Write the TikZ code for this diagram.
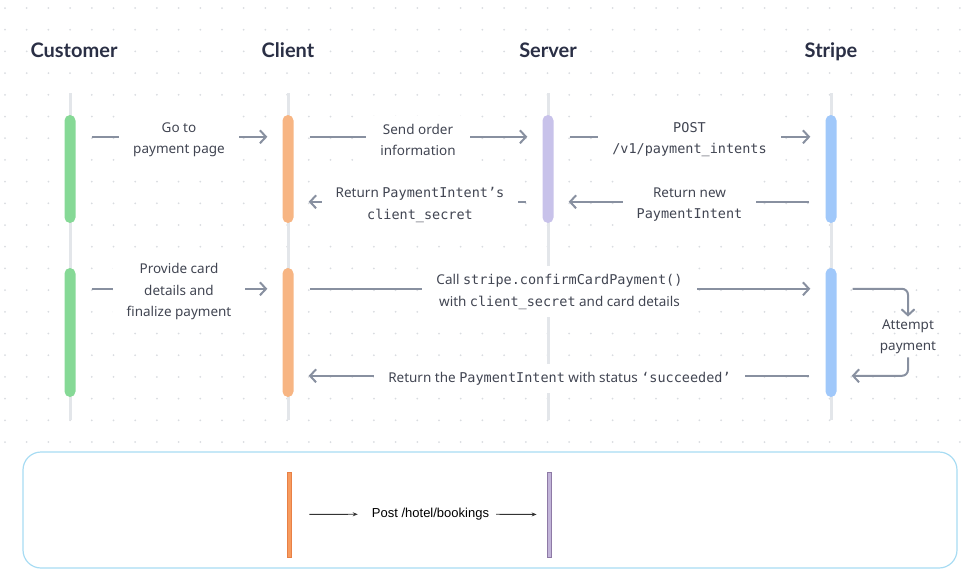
\documentclass[tikz,border=0pt]{standalone}
\usepackage{fontspec}
\setmainfont{Noto Sans}
\setmonofont{DejaVu Sans Mono}
\newfontfamily\headfont{Lato}
\newfontfamily\bookfont{Liberation Sans}
\usetikzlibrary{arrows.meta}
\definecolor{headc}{HTML}{2A2F45}
\definecolor{textc}{HTML}{414552}
\definecolor{arrowc}{HTML}{8890A0}
\definecolor{lifec}{HTML}{E3E6EA}
\definecolor{dotc}{HTML}{D9DCE0}
\definecolor{custc}{HTML}{86D996}
\definecolor{clntc}{HTML}{F7B583}
\definecolor{servc}{HTML}{C8C2EA}
\definecolor{strpc}{HTML}{A0C8FA}
\definecolor{framec}{HTML}{A8DCF3}
\tikzstyle{heading} = [font=\headfont\bfseries\fontsize{20}{24}\selectfont, text=headc, anchor=base]
\tikzstyle{lifeline} = [lifec, line width=3pt]
\tikzstyle{actbar} = [rectangle, rounded corners=5.5pt, minimum width=11pt, inner sep=0pt]
\tikzstyle{msg} = [arrowc, line width=2pt, -{Straight Barb[length=6pt, width=13pt]}, shorten <=16pt, shorten >=15pt]
\tikzstyle{lbl} = [fill=white, text=textc, align=center, inner xsep=14pt, inner ysep=8pt, yshift=-3pt, font=\fontsize{13.5}{21.5}\selectfont]
\tikzstyle{hotelbar} = [rectangle, minimum width=4pt, minimum height=85pt, inner sep=0pt, line width=0.8pt]
\tikzstyle{thinarrow} = [black!80, line width=0.9pt, -{Stealth[length=5pt, width=4pt]}]

\begin{document}
\begin{tikzpicture}[x=1pt, y=-1pt]
            \useasboundingbox (0,0) rectangle (970,574);
            % dotted background
            \foreach \i in {0,...,44}
                \foreach \j in {0,...,20}
                    \fill[dotc] (5+21.7*\i, 8+21.7*\j) circle (1pt);

            % participants
            \node [heading] at (74,57) (customer) {Customer};
            \node [heading] at (288,57) (client) {Client};
            \node [heading] at (548,57) (server) {Server};
            \node [heading] at (831,57) (stripe) {Stripe};
            \foreach \x in {70,288,548,831}
                \draw [lifeline] (\x,93) -- (\x,420);

            % activation bars
            \node [actbar, fill=custc, minimum height=108pt] at (70,169) (cust1) {};
            \node [actbar, fill=clntc, minimum height=108pt] at (288,169) (clnt1) {};
            \node [actbar, fill=servc, minimum height=108pt] at (548,169) (serv1) {};
            \node [actbar, fill=strpc, minimum height=108pt] at (831,169) (strp1) {};
            \node [actbar, fill=custc, minimum height=129pt] at (70,332.5) (cust2) {};
            \node [actbar, fill=clntc, minimum height=129pt] at (288,332.5) (clnt2) {};
            \node [actbar, fill=strpc, minimum height=129pt] at (831,332.5) (strp2) {};

            % messages
            \draw [msg] ([yshift=-22pt]cust1.north east) -- node[lbl] {Go to\\payment page} ([yshift=-22pt]clnt1.north west);
            \draw [msg] ([yshift=-22pt]clnt1.north east) -- node[lbl] {Send order\\information} ([yshift=-22pt]serv1.north west);
            \draw [msg] ([yshift=-22pt]serv1.north east) -- node[lbl] {\texttt{POST}\\\texttt{/v1/payment\_intents}} ([yshift=-22pt]strp1.north west);
            \draw [msg] ([yshift=-87pt]strp1.north west) -- node[lbl] {Return new\\\texttt{PaymentIntent}} ([yshift=-87pt]serv1.north east);
            \draw [msg] ([yshift=-87pt]serv1.north west) -- node[lbl, xshift=2pt] {Return \texttt{PaymentIntent’s}\\\texttt{client\_secret}} ([yshift=-87pt]clnt1.north east);
            \draw [msg] ([yshift=-21pt]cust2.north east) -- node[lbl] {Provide card\\details and\\finalize payment} ([yshift=-21pt]clnt2.north west);
            \draw [msg] ([yshift=-21pt]clnt2.north east) -- node[lbl] {Call \texttt{stripe.confirmCardPayment()}\\with \texttt{client\_secret} and card details} ([yshift=-21pt]strp2.north west);
            \draw [msg] ([yshift=-108pt]strp2.north west) -- node[lbl] {Return the \texttt{PaymentIntent} with status \texttt{‘succeeded’}} ([yshift=-108pt]clnt2.north east);

            % self call on Stripe
            \node [lbl, fill=none, inner sep=3pt, yshift=0pt] at (908,334) (attempt) {Attempt\\payment};
            \draw [msg, rounded corners=6pt, shorten >=0pt] ([yshift=-21pt]strp2.north east) -| (attempt);
            \draw [msg, rounded corners=6pt, shorten <=0pt] (attempt) |- ([yshift=-108pt]strp2.north east);

            % hotel booking frame
            \draw [framec, line width=1.2pt, rounded corners=18pt] (23,452) rectangle (957,568);
            \node [hotelbar, fill={rgb,255:red,247;green,155;blue,94}, draw={rgb,255:red,232;green,128;blue,70}] at (289,514.5) (hotelclnt) {};
            \node [hotelbar, fill={rgb,255:red,194;green,180;blue,217}, draw={rgb,255:red,142;green,122;blue,166}] at (549,514.5) (hotelserv) {};
            \node [inner xsep=0pt, text=black, font=\bookfont\fontsize{13}{15}\selectfont] at (430.5,514) (hotelmsg) {Post /hotel/bookings};
            \draw [thinarrow, shorten <=18pt, shorten >=14pt] (hotelclnt) -- (hotelmsg);
            \draw [thinarrow, shorten <=7pt, shorten >=10pt] (hotelmsg) -- (hotelserv);
\end{tikzpicture}
\end{document}
